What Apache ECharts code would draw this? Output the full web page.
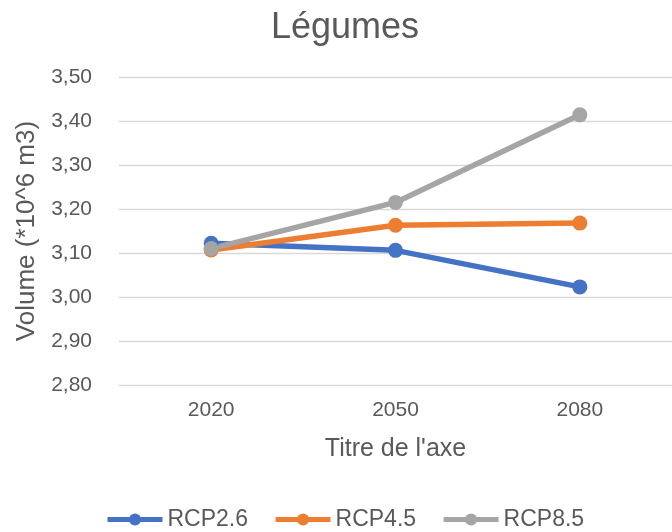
<!DOCTYPE html>
<html>
<head>
<meta charset="utf-8">
<script src="https://cdn.jsdelivr.net/npm/echarts@6/dist/echarts.min.js"></script>
<style>html,body{margin:0;padding:0;background:#fff}#c{width:672px;height:532px}</style>
</head>
<body>
<div id="c"></div>
<script>
const categories = ['2020', '2050', '2080'];
const rcp26 = [3.122, 3.106, 3.023];
const rcp45 = [3.107, 3.163, 3.168];
const rcp85 = [3.110, 3.215, 3.414];
const seriesNames = ['RCP2.6', 'RCP4.5', 'RCP8.5'];
const colors = ['#4472C4', '#ED7D31', '#A5A5A5'];
const F = '"Liberation Sans", Arial, sans-serif';
const txt = '#595959';
const chart = echarts.init(document.getElementById('c'));
function mk(name, data, color) {
  return {
    name: name, type: 'line', data: data,
    symbol: 'circle', symbolSize: 15,
    lineStyle: { width: 5.5, color: color },
    itemStyle: { color: color },
    emphasis: { disabled: true }, animation: false
  };
}
chart.setOption({
  animation: false,
  textStyle: { fontFamily: F },
  title: {
    text: 'Légumes', left: 340, top: 5, textAlign: 'center',
    textStyle: { fontFamily: F, fontSize: 36, fontWeight: 'normal', color: txt }
  },
  legend: {
    left: 105, top: 508, padding: 0, itemWidth: 55, itemHeight: 15, itemGap: 25,
    lineStyle: { width: 5 },
    textStyle: { fontFamily: F, fontSize: 23, color: txt },
    data: seriesNames
  },
  grid: { left: 119, right: -3, top: 77, bottom: 147, containLabel: false },
  xAxis: {
    type: 'category', data: categories, boundaryGap: true,
    name: "Titre de l'axe", nameLocation: 'middle', nameGap: 52,
    nameTextStyle: { fontFamily: F, fontSize: 25, color: txt },
    axisLine: { show: false }, axisTick: { show: false },
    axisLabel: { fontFamily: F, fontSize: 21, color: txt, margin: 15 }
  },
  yAxis: {
    type: 'value', min: 2.8, max: 3.5, interval: 0.1,
    name: 'Volume (*10^6 m3)', nameLocation: 'middle', nameGap: 74, nameRotate: 90,
    nameTextStyle: { fontFamily: F, fontSize: 26, color: txt },
    axisLine: { show: false }, axisTick: { show: false },
    splitLine: { lineStyle: { color: '#D9D9D9', width: 1.3 } },
    axisLabel: { fontFamily: F, fontSize: 21, color: txt, margin: 27,
      formatter: v => v.toFixed(2).replace('.', ',') }
  },
  series: [mk(seriesNames[0], rcp26, colors[0]), mk(seriesNames[1], rcp45, colors[1]), mk(seriesNames[2], rcp85, colors[2])]
});
</script>
</body>
</html>
